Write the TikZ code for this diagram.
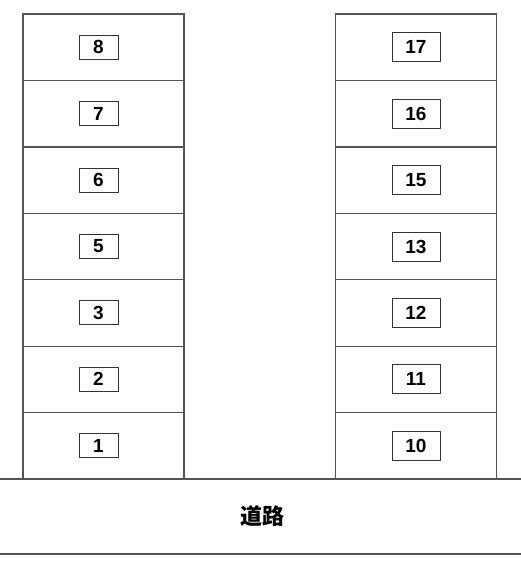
\documentclass[tikz,border=0pt]{standalone}
\usepackage{fontspec}
\setmainfont{Liberation Sans}
\newfontfamily\jpfont{Noto Sans CJK JP}
\definecolor{linegray}{HTML}{555555}
\definecolor{boxgray}{HTML}{333333}

\begin{document}
\begin{tikzpicture}[x=1pt,y=-1pt,
		stall/.style={draw=linegray, line width=1.3pt, minimum width=161pt, minimum height=66.43pt, inner sep=0pt, outer sep=0pt},
		lnum/.style={draw=boxgray, line width=1pt, minimum width=39pt, minimum height=24pt, inner sep=0pt, font=\fontsize{19}{19}\selectfont\bfseries},
		rnum/.style={lnum, minimum width=48pt, minimum height=29pt}]
			%\draw [help lines] (0,0) grid (521,566);
			\useasboundingbox (0,0) rectangle (521,566);

			\node[stall] (s1) at (103.5,445.79) {};
			\node[stall] (s2) at (103.5,379.36) {};
			\node[stall] (s3) at (103.5,312.93) {};
			\node[stall] (s5) at (103.5,246.5) {};
			\node[stall] (s6) at (103.5,180.07) {};
			\node[stall] (s7) at (103.5,113.64) {};
			\node[stall] (s8) at (103.5,47.21) {};

			\node[stall] (s10) at (416,445.79) {};
			\node[stall] (s11) at (416,379.36) {};
			\node[stall] (s12) at (416,312.93) {};
			\node[stall] (s13) at (416,246.5) {};
			\node[stall] (s15) at (416,180.07) {};
			\node[stall] (s16) at (416,113.64) {};
			\node[stall] (s17) at (416,47.21) {};

			\node[lnum] (n1) at ([xshift=-5pt]s1.center) {1};
			\node[lnum] (n2) at ([xshift=-5pt]s2.center) {2};
			\node[lnum] (n3) at ([xshift=-5pt]s3.center) {3};
			\node[lnum] (n5) at ([xshift=-5pt]s5.center) {5};
			\node[lnum] (n6) at ([xshift=-5pt]s6.center) {6};
			\node[lnum] (n7) at ([xshift=-5pt]s7.center) {7};
			\node[lnum] (n8) at ([xshift=-5pt]s8.center) {8};

			\node[rnum] (n10) at (s10.center) {10};
			\node[rnum] (n11) at (s11.center) {11};
			\node[rnum] (n12) at (s12.center) {12};
			\node[rnum] (n13) at (s13.center) {13};
			\node[rnum] (n15) at (s15.center) {15};
			\node[rnum] (n16) at (s16.center) {16};
			\node[rnum] (n17) at (s17.center) {17};

			% road
			\draw[linegray, line width=1.3pt] (0,479) -- (521,479);
			\draw[linegray, line width=1.3pt] (0,554) -- (521,554);
			\node[font=\jpfont\fontsize{22}{22}\selectfont\bfseries] (road) at (262,516) {道路};
		\end{tikzpicture}
\end{document}
